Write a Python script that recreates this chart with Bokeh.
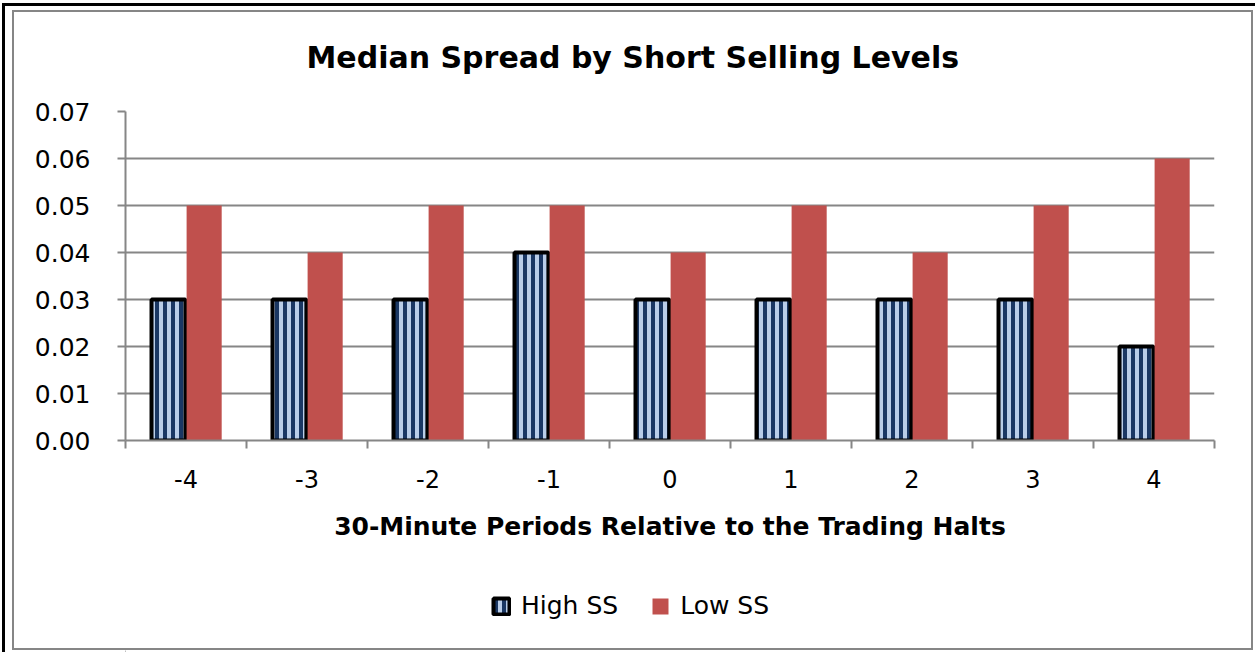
from bokeh.plotting import figure
from bokeh.layouts import column
from bokeh.models import (Range1d, FixedTicker, PrintfTickFormatter, Legend, LegendItem,
                          ColumnDataSource)
from bokeh.transform import dodge
from bokeh.embed import file_html
from bokeh.resources import INLINE

# ---- data ----
periods = ["-4", "-3", "-2", "-1", "0", "1", "2", "3", "4"]
high_ss = [0.03, 0.03, 0.03, 0.04, 0.03, 0.03, 0.03, 0.03, 0.02]
low_ss = [0.05, 0.04, 0.05, 0.05, 0.04, 0.05, 0.04, 0.05, 0.06]
y_ticks = [0.0, 0.01, 0.02, 0.03, 0.04, 0.05, 0.06, 0.07]
series_names = ["High SS", "Low SS"]
title_text = "Median Spread by Short Selling Levels"
x_title = "30-Minute Periods Relative to the Trading Halts"

x_pos = [i + 0.5 for i in range(len(periods))]
src = ColumnDataSource(dict(x=x_pos, high=high_ss, low=low_ss, cat=periods))

FONT = "DejaVu Sans"
GREY = "#868686"
W = 1255
H1, H2 = 560, 92
FL, FR, FT, FB = 125, 1214, 111, 440   # frame edges in page pixels

HIGH_STYLE = dict(fill_color="#b9cde8", hatch_pattern="|", hatch_color="#1a3763",
                  hatch_scale=8, hatch_weight=4, line_color="black", line_width=4)
LOW_STYLE = dict(fill_color="#c0504d", line_color=None)

p = figure(width=W, height=H1, output_backend="svg", toolbar_location=None,
           x_range=Range1d(0, len(periods)), y_range=Range1d(0, 0.07),
           min_border_left=FL, min_border_right=W - FR,
           min_border_top=FT, min_border_bottom=H1 - FB)
p.outline_line_color = None
p.background_fill_color = None
p.border_fill_color = None

p.vbar(x=dodge("x", -0.145), top="high", width=0.28, source=src, **HIGH_STYLE)
p.vbar(x=dodge("x", 0.15), top="low", width=0.29, source=src, **LOW_STYLE)

# axes
xa = p.xaxis[0]
xa.ticker = FixedTicker(ticks=x_pos, minor_ticks=list(range(len(periods) + 1)))
xa.major_label_overrides = {x: c for x, c in zip(x_pos, periods)}
xa.major_tick_out = 0
xa.major_tick_in = 0
xa.minor_tick_out = 8
xa.minor_tick_in = 0
xa.minor_tick_line_color = GREY
xa.minor_tick_line_width = 2
xa.axis_line_color = GREY
xa.axis_line_width = 2
xa.major_label_text_font = FONT
xa.major_label_text_font_size = "24px"
xa.major_label_text_color = "black"
xa.major_label_standoff = 21
xa.axis_label = x_title
xa.axis_label_text_font = FONT
xa.axis_label_text_font_style = "bold"
xa.axis_label_text_font_size = "25px"
xa.axis_label_text_color = "black"
xa.axis_label_standoff = 21

ya = p.yaxis[0]
ya.ticker = FixedTicker(ticks=y_ticks)
ya.formatter = PrintfTickFormatter(format="%.2f")
ya.major_tick_out = 8
ya.major_tick_in = 0
ya.minor_tick_line_color = None
ya.major_tick_line_color = GREY
ya.major_tick_line_width = 2
ya.axis_line_color = GREY
ya.axis_line_width = 2
ya.major_label_text_font = FONT
ya.major_label_text_font_size = "25px"
ya.major_label_text_color = "black"
ya.major_label_standoff = 27

p.xgrid.grid_line_color = None
p.ygrid.grid_line_color = GREY
p.ygrid.grid_line_width = 2

# title
p.title.text = title_text
p.title.align = "left"
p.title.offset = 181
p.title.standoff = 73
p.title.text_font = FONT
p.title.text_font_style = "bold"
p.title.text_font_size = "30px"
p.title.text_color = "black"

# legend strip (separate figure so the legend is not clipped)
q = figure(width=W, height=H2, output_backend="svg", toolbar_location=None,
           x_range=Range1d(0, 1), y_range=Range1d(0, 1),
           x_axis_type=None, y_axis_type=None,
           min_border_left=0, min_border_right=0, min_border_top=0, min_border_bottom=0)
q.outline_line_color = None
q.background_fill_color = None
q.border_fill_color = None
# legend-only renderers, positioned outside the visible range
lh = q.vbar(x=[-5], top=[0], width=0.1, **HIGH_STYLE)
ll = q.vbar(x=[-5], top=[0], width=0.1, **LOW_STYLE)
legend = Legend(items=[LegendItem(label=series_names[0], renderers=[lh], index=0),
                       LegendItem(label=series_names[1], renderers=[ll], index=0)],
                orientation="horizontal", location=(366, 32),
                glyph_width=20, glyph_height=20, label_standoff=10, spacing=32,
                padding=0, margin=0, border_line_color=None, background_fill_alpha=0,
                label_text_font=FONT, label_text_font_size="25px", label_text_color="black")
q.add_layout(legend, "center")

layout = column(p, q, spacing=0)

# chart border drawn as the layout background (behind the transparent canvases)
g = "linear-gradient(#868686,#868686)"
k = "linear-gradient(#000,#000)"
layout.styles = {
    "background": ", ".join([
        f"{g} 12px 10px / 1241px 2px no-repeat",
        f"{g} 12px 648px / 1241px 2px no-repeat",
        f"{g} 12px 10px / 2px 640px no-repeat",
        f"{g} 1251px 10px / 2px 640px no-repeat",
        f"{k} 2px 3px / 1253px 3px no-repeat",
        f"{k} 2px 3px / 3px 649px no-repeat",
        "white",
    ])
}

open("out.html", "w").write(file_html(layout, INLINE))
